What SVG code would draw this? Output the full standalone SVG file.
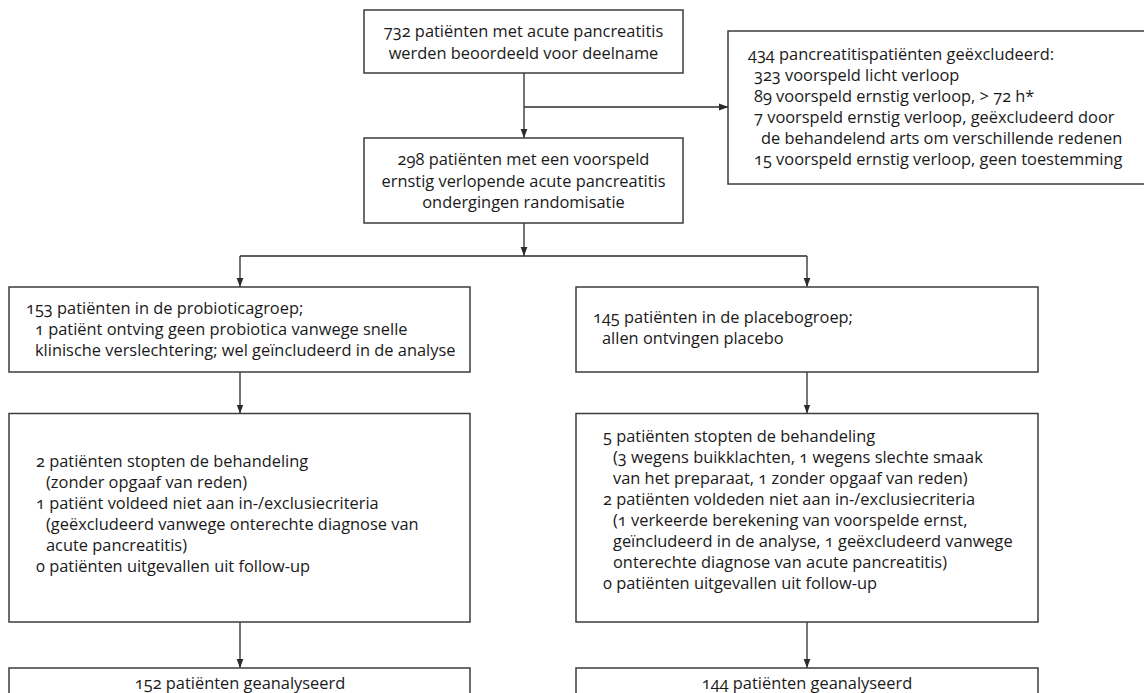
<svg xmlns="http://www.w3.org/2000/svg" width="1144" height="693" viewBox="0 0 1144 693">
<defs>
<marker id="arr" markerWidth="8" markerHeight="9" refX="9" refY="4" orient="auto" markerUnits="userSpaceOnUse">
<path d="M0,0.6 L9,4 L0,7.4 Z" fill="#2b2b2b"/>
</marker>
<style>
.box{fill:#fff;stroke:#3c3c3c;stroke-width:1.5}
.t{font-family:"Open Sans","Noto Sans","Liberation Sans",sans-serif;font-size:16.4px;fill:#1a1a1a;font-feature-settings:"onum" 1}
.c{text-anchor:middle}
.ln{fill:none;stroke:#2b2b2b;stroke-width:1.3}
</style>
</defs>
<rect width="1144" height="693" fill="#fff"/>

<g id="connectors">
<line class="ln" x1="524" y1="73" x2="524" y2="138" marker-end="url(#arr)"/>
<line class="ln" x1="524" y1="107" x2="728" y2="107" marker-end="url(#arr)"/>
<line class="ln" x1="524" y1="223" x2="524" y2="256" marker-end="url(#arr)"/>
<line class="ln" x1="240" y1="256" x2="807" y2="256"/>
<line class="ln" x1="240" y1="256" x2="240" y2="287" marker-end="url(#arr)"/>
<line class="ln" x1="807" y1="256" x2="807" y2="287" marker-end="url(#arr)"/>
<line class="ln" x1="240" y1="372" x2="240" y2="413.5" marker-end="url(#arr)"/>
<line class="ln" x1="807" y1="372" x2="807" y2="413.5" marker-end="url(#arr)"/>
<line class="ln" x1="240" y1="622" x2="240" y2="668" marker-end="url(#arr)"/>
<line class="ln" x1="807" y1="622" x2="807" y2="668" marker-end="url(#arr)"/>
</g>

<g id="n-assessed">
<rect class="box" x="364" y="10" width="319" height="63"/>
<text class="t c" x="523.5" y="37">732 patiënten met acute pancreatitis</text>
<text class="t c" x="523.5" y="58.5">werden beoordeeld voor deelname</text>
</g>

<g id="n-excluded">
<rect class="box" x="728" y="31" width="420" height="153"/>
<text class="t" x="748" y="60">434 pancreatitispatiënten geëxcludeerd:</text>
<text class="t" x="754" y="81">323 voorspeld licht verloop</text>
<text class="t" x="754" y="102">89 voorspeld ernstig verloop, &gt; 72 h*</text>
<text class="t" x="754" y="123">7 voorspeld ernstig verloop, geëxcludeerd door</text>
<text class="t" x="761" y="144">de behandelend arts om verschillende redenen</text>
<text class="t" x="754" y="165">15 voorspeld ernstig verloop, geen toestemming</text>
</g>

<g id="n-randomised">
<rect class="box" x="364" y="138" width="319" height="85"/>
<text class="t c" x="523.5" y="165">298 patiënten met een voorspeld</text>
<text class="t c" x="523.5" y="186.5">ernstig verlopende acute pancreatitis</text>
<text class="t c" x="523.5" y="208">ondergingen randomisatie</text>
</g>

<g id="n-probiotic">
<rect class="box" x="9" y="287" width="461" height="85"/>
<text class="t" x="26" y="313.5">153 patiënten in de probioticagroep;</text>
<text class="t" x="35" y="334.5">1 patiënt ontving geen probiotica vanwege snelle</text>
<text class="t" x="35" y="355.5">klinische verslechtering; wel geïncludeerd in de analyse</text>
</g>

<g id="n-placebo">
<rect class="box" x="576" y="287" width="462" height="85"/>
<text class="t" x="593" y="323">145 patiënten in de placebogroep;</text>
<text class="t" x="602" y="344">allen ontvingen placebo</text>
</g>

<g id="n-probiotic-followup">
<rect class="box" x="9" y="413.5" width="461" height="208.5"/>
<text class="t" x="36" y="467">2 patiënten stopten de behandeling</text>
<text class="t" x="46" y="488">(zonder opgaaf van reden)</text>
<text class="t" x="36" y="509">1 patiënt voldeed niet aan in-/exclusiecriteria</text>
<text class="t" x="46" y="530">(geëxcludeerd vanwege onterechte diagnose van</text>
<text class="t" x="46" y="551">acute pancreatitis)</text>
<text class="t" x="36" y="572">0 patiënten uitgevallen uit follow-up</text>
</g>

<g id="n-placebo-followup">
<rect class="box" x="576" y="413.5" width="462" height="208.5"/>
<text class="t" x="603" y="442">5 patiënten stopten de behandeling</text>
<text class="t" x="613" y="463">(3 wegens buikklachten, 1 wegens slechte smaak</text>
<text class="t" x="613" y="484">van het preparaat, 1 zonder opgaaf van reden)</text>
<text class="t" x="603" y="505">2 patiënten voldeden niet aan in-/exclusiecriteria</text>
<text class="t" x="613" y="526">(1 verkeerde berekening van voorspelde ernst,</text>
<text class="t" x="613" y="547">geïncludeerd in de analyse, 1 geëxcludeerd vanwege</text>
<text class="t" x="613" y="568">onterechte diagnose van acute pancreatitis)</text>
<text class="t" x="603" y="589">0 patiënten uitgevallen uit follow-up</text>
</g>

<g id="n-probiotic-analysed">
<rect class="box" x="9" y="668" width="461" height="60"/>
<text class="t c" x="240" y="689">152 patiënten geanalyseerd</text>
</g>

<g id="n-placebo-analysed">
<rect class="box" x="576" y="668" width="462" height="60"/>
<text class="t c" x="807" y="689">144 patiënten geanalyseerd</text>
</g>
</svg>
